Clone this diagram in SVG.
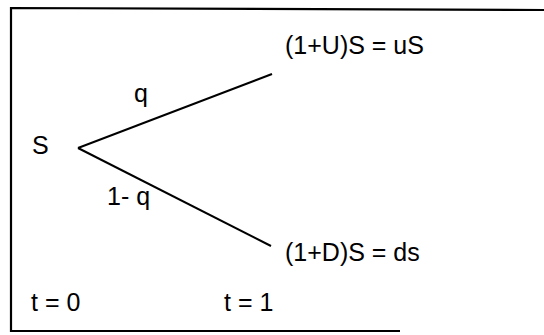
<svg xmlns="http://www.w3.org/2000/svg" width="544" height="335" viewBox="0 0 544 335">
<style>
text{font-family:"Liberation Sans",Arial,sans-serif;font-size:25px;fill:#000}
.edge{stroke:#000;stroke-width:2;fill:none}
.frame{stroke:#000;stroke-width:2.2;fill:none}
</style>
<rect width="544" height="335" fill="#fff"/>
<path class="frame" d="M546,10 L11,8 L11,331 L400,331"/>
<g id="connectors">
<line class="edge" x1="78" y1="148" x2="272" y2="74"/>
<line class="edge" x1="78" y1="148" x2="271" y2="246"/>
</g>
<g id="node-S"><text x="32" y="154">S</text></g>
<g id="node-up"><text x="285" y="54">(1+U)S = uS</text></g>
<g id="node-down"><text x="285" y="261">(1+D)S = ds</text></g>
<g id="label-q"><text x="134" y="102">q</text></g>
<g id="label-1mq"><text x="107" y="205">1- q</text></g>
<g id="label-t0"><text x="31" y="311">t = 0</text></g>
<g id="label-t1"><text x="224" y="311">t = 1</text></g>
</svg>
